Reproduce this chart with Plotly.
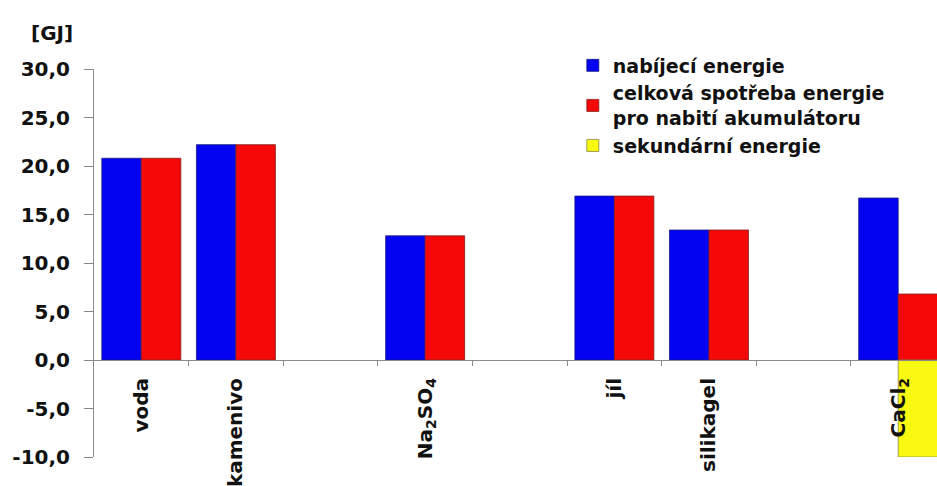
import plotly.graph_objects as go

# Materials (empty slots keep the gaps between groups)
categories = ["voda", "kamenivo", "", "Na<sub>2</sub>SO<sub>4</sub>", "",
              "jíl", "silikagel", "", "CaCl<sub>2</sub>"]
nabijeci = [20.8, 22.2, None, 12.8, None, 16.9, 13.4, None, 16.7]
celkova = [20.8, 22.2, None, 12.8, None, 16.9, 13.4, None, 6.8]
sekundarni = [None, None, None, None, None, None, None, None, -10.0]
y_ticks = [-10, -5, 0, 5, 10, 15, 20, 25, 30]
y_tick_text = ["-10,0", "-5,0", "0,0", "5,0", "10,0", "15,0", "20,0", "25,0", "30,0"]

x = list(range(len(categories)))
FONT = "DejaVu Sans"
AXIS_GRAY = "#8a8a8a"
TEXT = "#111111"

fig = go.Figure()
fig.add_trace(go.Bar(
    x=x, y=nabijeci, name="nabíjecí energie", offsetgroup="a",
    marker=dict(color="#0303F2", line=dict(color="#1a1a80", width=0.8)),
))
fig.add_trace(go.Bar(
    x=x, y=celkova, name="celková spotřeba energie<br>pro nabití akumulátoru",
    offsetgroup="b",
    marker=dict(color="#F50808", line=dict(color="#802020", width=0.8)),
))
fig.add_trace(go.Bar(
    x=x, y=sekundarni, name="sekundární energie", offsetgroup="b",
    marker=dict(color="#F8F810", line=dict(color="#8a8a40", width=0.8)),
))

ymin, ymax = y_ticks[0], y_ticks[-1]
zero_pos = (0 - ymin) / (ymax - ymin)

fig.update_layout(
    width=937, height=486,
    margin=dict(l=94, r=0, t=69, b=29),
    paper_bgcolor="white", plot_bgcolor="white",
    barmode="group", bargap=0.165, bargroupgap=0,
    font=dict(family=FONT, color=TEXT),
    showlegend=True,
    legend=dict(
        x=0.568, y=1.058, xanchor="left", yanchor="top",
        bgcolor="rgba(0,0,0,0)", borderwidth=0,
        font=dict(family=FONT, size=19, color=TEXT, weight="bold"),
        itemwidth=30, tracegroupgap=0,
        traceorder="normal",
    ),
    xaxis=dict(
        range=[-0.5, 8.41],
        tickmode="array", tickvals=x, ticktext=categories,
        tickangle=-90, ticks="", showgrid=False, zeroline=False,
        showline=True, linecolor=AXIS_GRAY, linewidth=1,
        anchor="free", position=zero_pos,
        tickfont=dict(family=FONT, size=20, color=TEXT, weight="bold"),
        ticklabelstandoff=9,
        minor=dict(tickmode="array", tickvals=[i + 0.5 for i in range(8)],
                   ticks="outside", ticklen=5, tickcolor=AXIS_GRAY, showgrid=False),
        automargin=False,
    ),
    yaxis=dict(
        range=[ymin, ymax],
        tickmode="array", tickvals=y_ticks, ticktext=y_tick_text,
        ticks="outside", ticklen=9, tickcolor=AXIS_GRAY,
        showline=True, linecolor=AXIS_GRAY, linewidth=1,
        showgrid=False, zeroline=False,
        tickfont=dict(family=FONT, size=20, color=TEXT, weight="bold"),
        ticklabelstandoff=10,
        automargin=False,
    ),
    annotations=[dict(
        text="[GJ]", xref="paper", yref="paper", x=-0.05, y=1.093,
        xanchor="center", yanchor="middle", showarrow=False,
        font=dict(family=FONT, size=20, color=TEXT, weight="bold"),
    )],
)

fig.write_html("out.html")
